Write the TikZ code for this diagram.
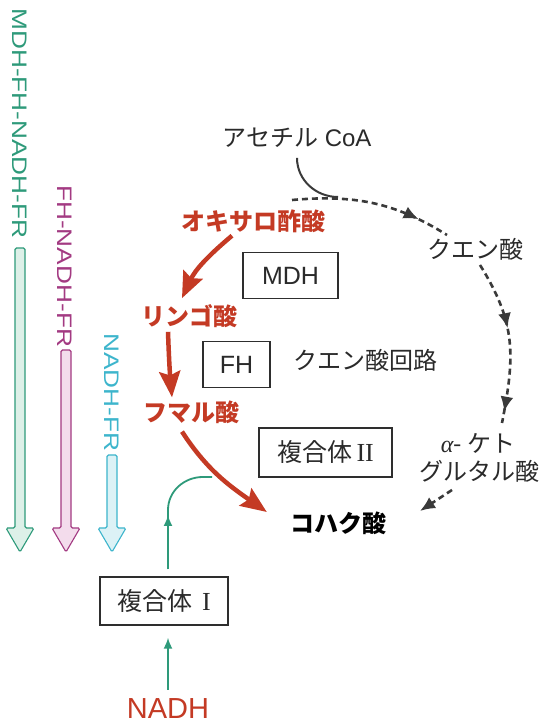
\documentclass[tikz,border=0pt]{standalone}
\usepackage{fontspec}
\setmainfont{Liberation Sans}
\newfontfamily\jp{Noto Sans CJK JP}
\newfontfamily\lser{Liberation Serif}
\usetikzlibrary{arrows.meta,decorations.markings}
\definecolor{redc}{HTML}{C43A24}
\definecolor{linec}{HTML}{3A3A3A}
\definecolor{boxc}{HTML}{2E2E2E}
\definecolor{textc}{HTML}{2A2A2A}
\definecolor{gc}{HTML}{2E9A7A}
\definecolor{gf}{HTML}{DDF0E8}
\definecolor{mc}{HTML}{A33A82}
\definecolor{mf}{HTML}{F3DCEC}
\definecolor{cc}{HTML}{3DB5CC}
\definecolor{cf}{HTML}{DCF2F6}
\newcommand\hollowarr[4]{%
  \draw[draw=#3, fill=#4, line width=1.1pt, rounded corners=1.5pt]
    (#1-5,197) -- (#1-5,#2) -- (#1+5,#2) -- (#1+5,197) -- (#1+14,197)
    -- (#1,173) -- (#1-14,197) -- cycle;}
\begin{document}
\begin{tikzpicture}[x=1pt,y=1pt,
  jt/.style={font=\jp\fontsize{24}{28}\selectfont, text=textc, inner sep=0pt},
  jtred/.style={font=\jp\bfseries\fontsize{24}{28}\selectfont, text=redc, inner sep=0pt},
  jtbold/.style={font=\jp\bfseries\fontsize{24}{28}\selectfont, text=black, inner sep=0pt},
  box/.style={draw=boxc, line width=1.4pt, minimum height=46pt, inner sep=0pt,
    font=\fontsize{25}{28}\selectfont, text=textc},
  vtext/.style={font=\fontsize{21}{24}\selectfont, rotate=-90, xscale=1.25,
    inner sep=0pt, anchor=west},
  redarr/.style={draw=redc, line width=4.5pt,
    -{Stealth[length=26pt,width=21pt,inset=4pt]}},
  dline/.style={draw=linec, line width=2.6pt, dash pattern=on 6pt off 4pt},
  gline/.style={draw=gc, line width=1.8pt},
  gtip/.tip={Latex[length=11pt,width=9pt]},
  tipd/.tip={Latex[length=15pt,width=13pt]}
]
\fill[white] (0,0) rectangle (539,725);
\useasboundingbox (0,0) rectangle (539,725);

% vertical labels and hollow arrows
\node[vtext, text=gc] (gtxt) at (19.5,717) {MDH-FH-NADH-FR};
\node[vtext, text=mc] (mtxt) at (64.5,540) {FH-NADH-FR};
\node[vtext, text=cc] (ctxt) at (112,392) {NADH-FR};
\hollowarr{20}{477}{gc}{gf}
\hollowarr{66}{375}{mc}{mf}
\hollowarr{112}{270}{cc}{cf}

% texts
\node[font=\fontsize{24}{28}\selectfont, text=textc, inner sep=0pt] (acetyl) at (297,587) {{\jp アセチル} CoA};
\node[jt] (citrate) at (475,476) {クエン酸};
\node[jt] (cycle) at (365,365) {クエン酸回路};
\node[jt] (akg1) at (478,282) {{\lser\itshape α}- ケト};
\node[jt] (akg2) at (479,254) {グルタル酸};
\node[jtred] (oxa) at (253,504) {オキサロ酢酸};
\node[jtred] (mal) at (189,409) {リンゴ酸};
\node[jtred] (fum) at (191,313) {フマル酸};
\node[jtbold] (succ) at (338,202) {コハク酸};
\node[box, minimum width=95pt] (mdh) at (290.5,449.5) {MDH};
\node[box, minimum width=67pt] (fh) at (236.5,360.5) {FH};
\node[box, minimum width=133pt, minimum height=49pt] (c2) at (325.5,272.5)
  {{\jp 複合体}{\lser\fontsize{26}{28}\selectfont\,II}};
\node[box, minimum width=128pt, minimum height=48pt] (c1) at (164,124)
  {{\jp 複合体}\hspace{10pt}{\lser\fontsize{26}{28}\selectfont I}};
\node[font=\fontsize{29}{32}\selectfont, text=redc, inner sep=0pt] (nadh) at (168,16) {NADH};

% red arrows
\draw[redarr] ([xshift=-21pt,yshift=-3pt]oxa.south) to[out=220,in=65] ([xshift=-7pt,yshift=6pt]mal.north);
\draw[redarr] ([xshift=-21pt,yshift=-4pt]mal.south) to[out=-88,in=95] ([xshift=-19pt,yshift=3pt]fum.north);
\draw[redarr] ([xshift=-9pt,yshift=-8pt]fum.south) to[out=-57,in=145] ([xshift=-23pt,yshift=11pt]succ.west);

% acetyl-CoA entry and citric acid cycle (dashed)
\coordinate (d1s) at (292,525);
\coordinate (d1e) at (447,490);
\coordinate (d2s) at (480,460);
\coordinate (d2e) at (502,302);
\coordinate (d3s) at (452,235);
\coordinate (d3e) at (420,214);
\draw[draw=linec, line width=2pt] ([yshift=-10pt]acetyl.south) to[out=-90,in=180] (338,528);
\draw[dline, postaction={decorate}, decoration={markings,
   mark=at position 0.8 with {\arrow{tipd}}}] (d1s) to[out=5,in=148] (d1e);
\draw[dline, postaction={decorate}, decoration={markings,
   mark=at position 0.42 with {\arrow{tipd}},
   mark=at position 0.93 with {\arrow{tipd}}}] (d2s) to[out=-58,in=79,looseness=1.1] (d2e);
\draw[dline, -{Latex[length=15pt,width=13pt]}] (d3s) -- (d3e);

% green NADH arrows
\coordinate (gtop) at (168,210);
\coordinate (gend) at (212,248);
\coordinate (nadhtop) at ([yshift=9pt]nadh.north);
\coordinate (c1bot) at ([yshift=-12pt]c1.south);
\coordinate (c1top) at ([yshift=7pt]c1.north);
\draw[gline, -gtip] (nadhtop) -- (nadhtop |- c1bot);
\draw[gline, -gtip] (gtop |- c1top) -- (gtop);
\draw[gline] ([yshift=-5pt]gtop) -- ++(0,10) to[out=90,in=180] (203,248) -- (gend);
\end{tikzpicture}
\end{document}
